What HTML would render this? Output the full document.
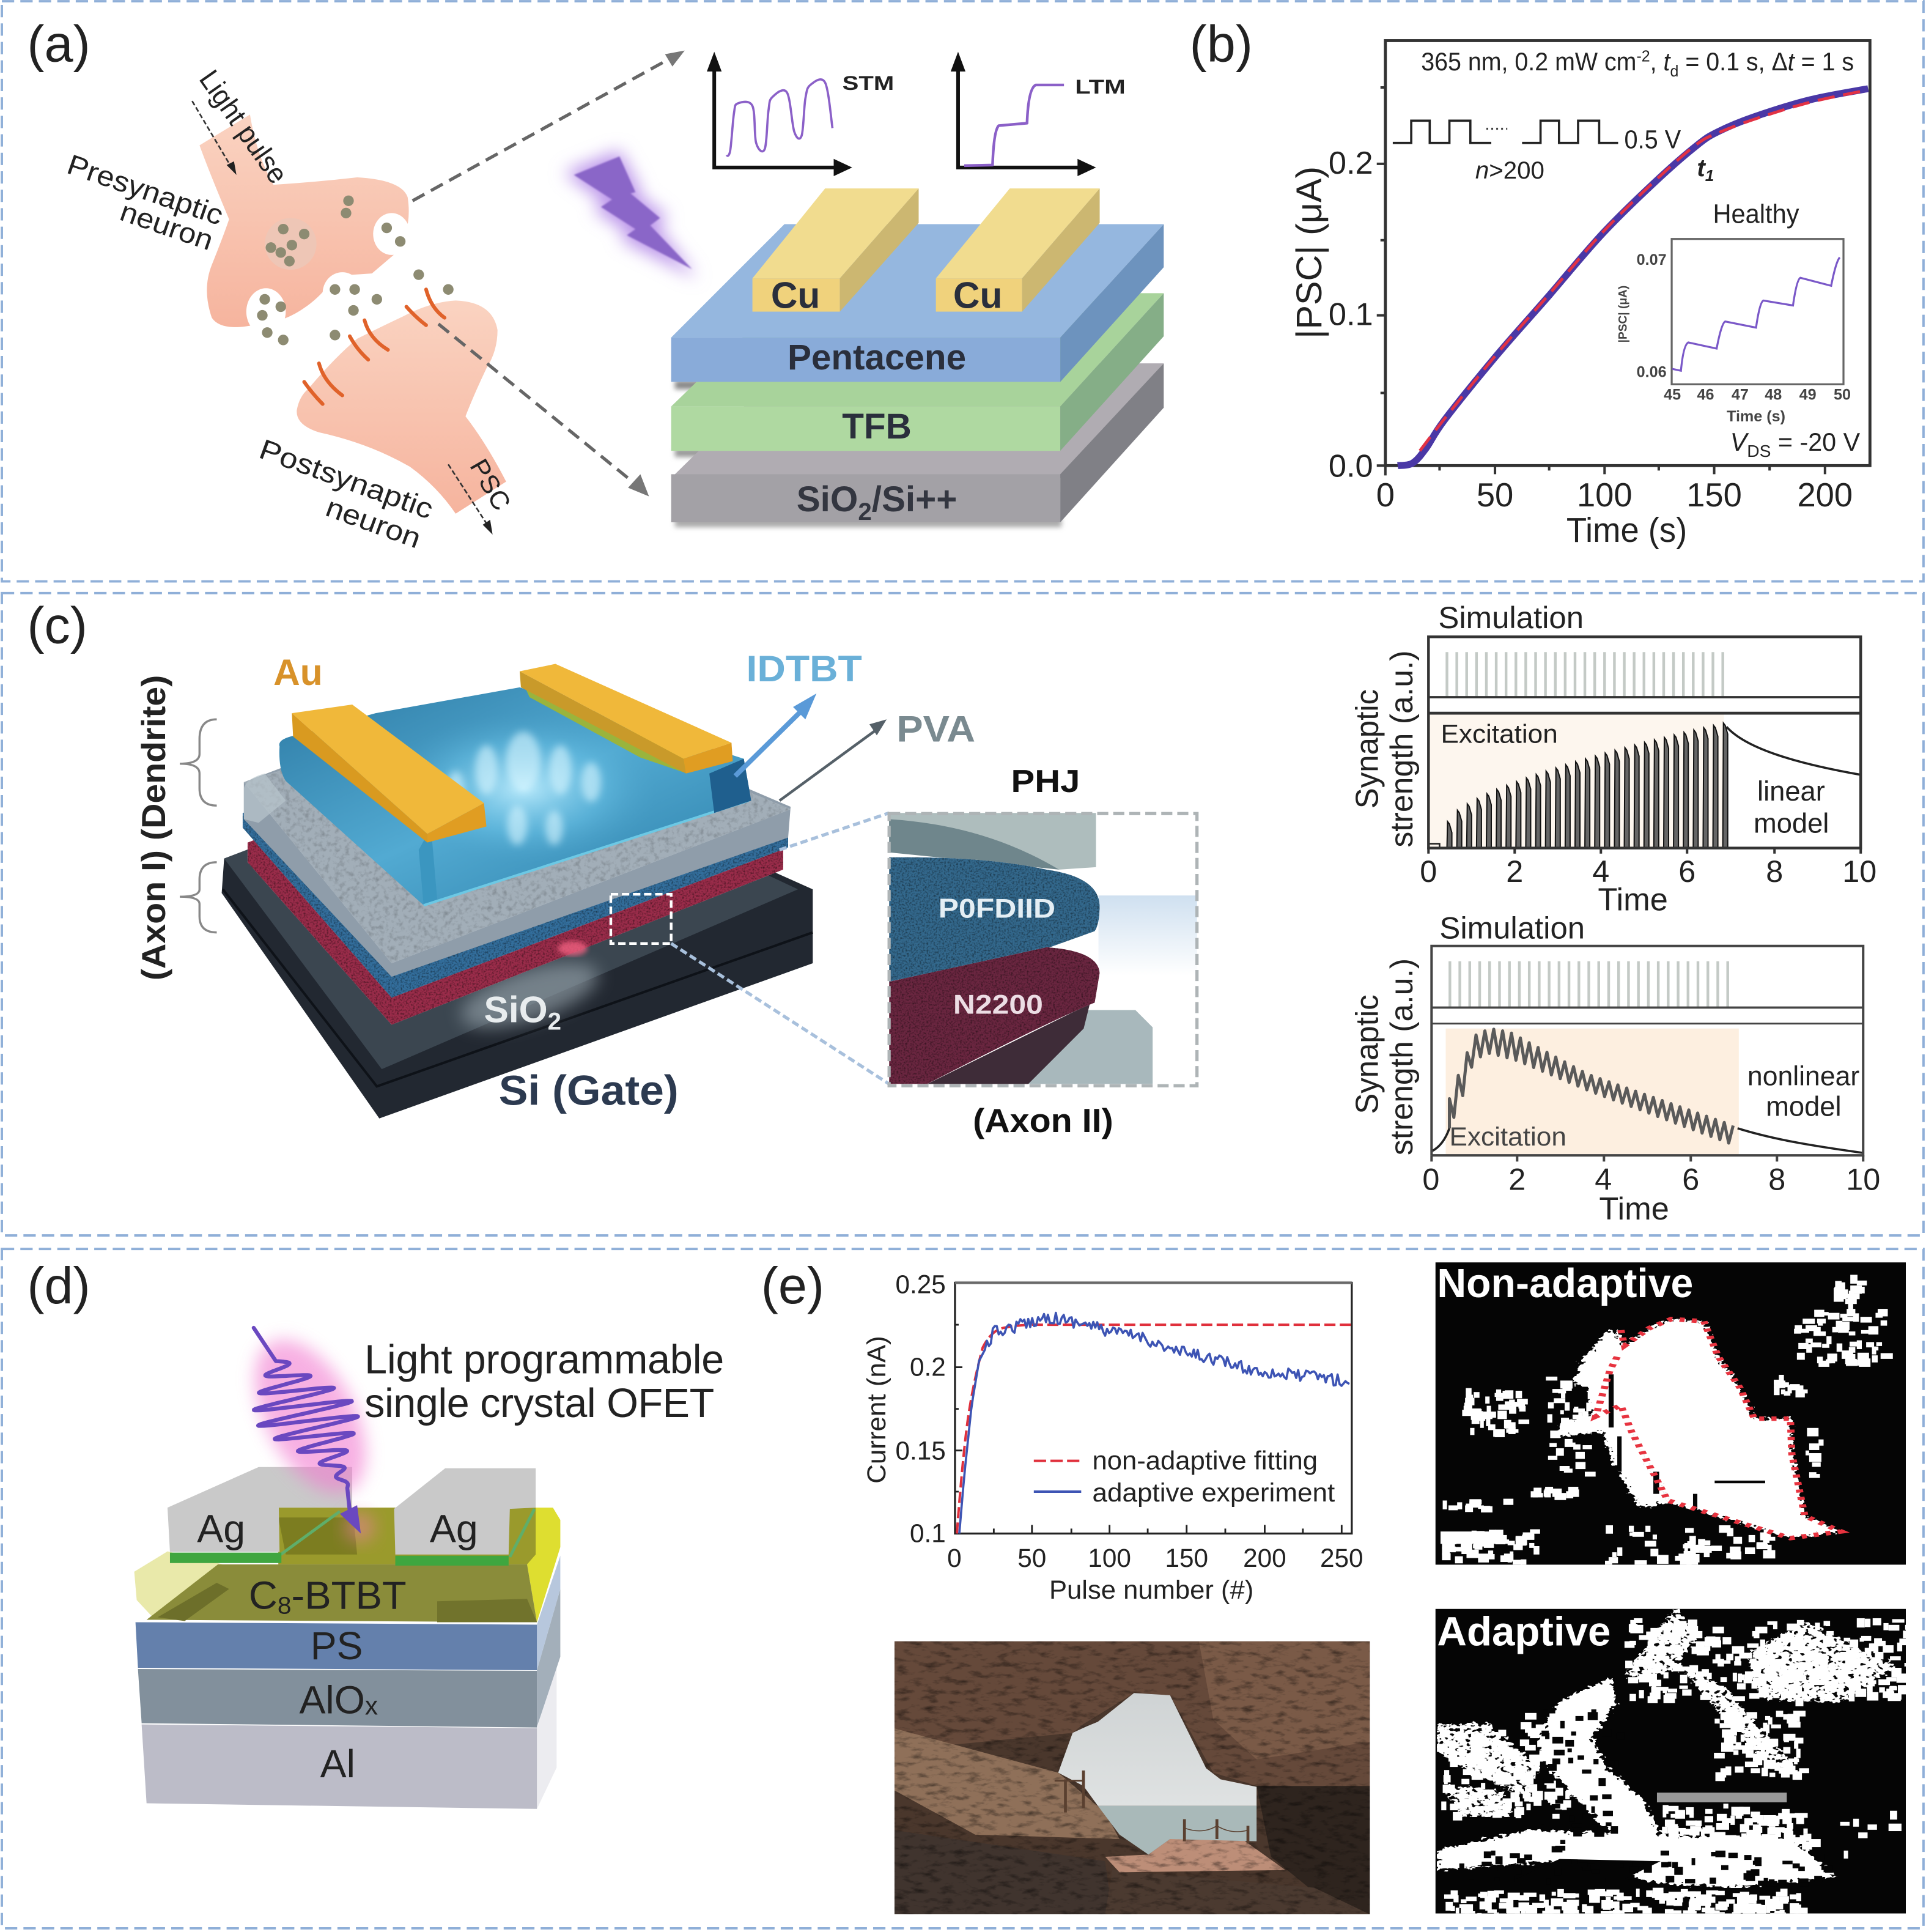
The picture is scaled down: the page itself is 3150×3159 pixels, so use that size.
<!DOCTYPE html>
<html><head><meta charset="utf-8"><style>
html,body{margin:0;padding:0;background:#fff}
svg{display:block}
text{font-family:"Liberation Sans",sans-serif;fill:#222}
.b{font-weight:bold}
</style></head><body>
<svg xmlns="http://www.w3.org/2000/svg" width="3150" height="3159" viewBox="0 0 1564 1568.5">
<defs>
<filter id="bl2"><feGaussianBlur stdDeviation="2"/></filter>
<filter id="bl1"><feGaussianBlur stdDeviation=".7"/></filter>
<filter id="bl3" x="-40%" y="-40%" width="180%" height="180%"><feGaussianBlur stdDeviation="3"/></filter>
<filter id="bl6" x="-40%" y="-40%" width="180%" height="180%"><feGaussianBlur stdDeviation="7"/></filter>
<filter id="rag" x="0" y="0" width="1" height="1" color-interpolation-filters="sRGB">
 <feTurbulence type="fractalNoise" baseFrequency=".13" numOctaves="2" seed="4" result="n"/>
 <feDisplacementMap in="SourceGraphic" in2="n" scale="26" xChannelSelector="R" yChannelSelector="G" result="d"/>
 <feColorMatrix in="n" type="matrix" values="0 0 0 0 0 0 0 0 0 0 0 0 0 0 0 14 0 0 0 -8.2" result="h"/>
 <feComposite in="d" in2="h" operator="out"/>
</filter>
<filter id="rag2" x="0" y="0" width="1" height="1" color-interpolation-filters="sRGB">
 <feTurbulence type="fractalNoise" baseFrequency=".14" numOctaves="2" seed="9" result="n"/>
 <feDisplacementMap in="SourceGraphic" in2="n" scale="22" xChannelSelector="R" yChannelSelector="G"/>
</filter>
<filter id="grain" x="0" y="0" width="1" height="1" color-interpolation-filters="sRGB">
 <feTurbulence type="fractalNoise" baseFrequency=".7" numOctaves="2" seed="2" result="n"/>
 <feColorMatrix in="n" type="matrix" values="1.1 0 0 0 .38 1.1 0 0 0 .38 1.1 0 0 0 .38 0 0 0 0 1" result="g"/>
 <feBlend in="SourceGraphic" in2="g" mode="multiply" result="m"/>
 <feComposite in="m" in2="SourceGraphic" operator="in"/>
</filter>
<filter id="soft" x="0" y="0" width="1" height="1" color-interpolation-filters="sRGB">
 <feTurbulence type="fractalNoise" baseFrequency=".25" numOctaves="3" seed="5" result="n"/>
 <feColorMatrix in="n" type="matrix" values=".45 0 0 0 .76 .45 0 0 0 .76 .45 0 0 0 .76 0 0 0 0 1" result="g"/>
 <feBlend in="SourceGraphic" in2="g" mode="multiply" result="m"/>
 <feComposite in="m" in2="SourceGraphic" operator="in"/>
</filter>
<filter id="rock" x="0" y="0" width="1" height="1" color-interpolation-filters="sRGB">
 <feTurbulence type="fractalNoise" baseFrequency=".05 .08" numOctaves="5" seed="7" result="n"/>
 <feColorMatrix in="n" type="matrix" values="1.15 0 0 0 .42 1.15 0 0 0 .42 1.15 0 0 0 .42 0 0 0 0 1" result="g"/>
 <feBlend in="SourceGraphic" in2="g" mode="multiply"/>
</filter>
<linearGradient id="pre" x1="0" y1="0" x2="0" y2="1"><stop offset="0" stop-color="#fad3c1"/><stop offset="1" stop-color="#f6b49e"/></linearGradient>
<linearGradient id="idt" x1="0" y1="0" x2="1" y2="1"><stop offset="0" stop-color="#2d7aa4"/><stop offset=".5" stop-color="#52aad2"/><stop offset="1" stop-color="#2a7ca6"/></linearGradient>
<radialGradient id="glo"><stop offset="0" stop-color="#c4f0ff" stop-opacity=".9"/><stop offset=".6" stop-color="#6cc4e8" stop-opacity=".45"/><stop offset="1" stop-color="#4aa0c8" stop-opacity="0"/></radialGradient>
<linearGradient id="lb" x1="0" y1="0" x2="0" y2="1"><stop offset="0" stop-color="#cfe0f0"/><stop offset="1" stop-color="#fff"/></linearGradient>
<linearGradient id="sky" x1="0" y1="0" x2="0" y2="1"><stop offset="0" stop-color="#cfd3d4"/><stop offset="1" stop-color="#dfe2e2"/></linearGradient>
<clipPath id="ph"><rect x="138" y="903" width="659" height="617"/></clipPath>
<clipPath id="na"><rect x="888" y="47" width="652" height="683"/></clipPath>
<clipPath id="ad"><rect x="888" y="830" width="652" height="688"/></clipPath>
</defs>
<rect width="1564" height="1568.5" fill="#fff"/>

<!-- panel borders -->
<g fill="none" stroke="#8fafd8" stroke-width="1.9" stroke-dasharray="10 5">
<rect x="1.5" y="1" width="1560.5" height="471"/>
<rect x="1.5" y="481.5" width="1560.5" height="521.5"/>
<rect x="1.5" y="1014" width="1560.5" height="551.5"/>
</g>
<g font-size="42"><text x="22" y="50">(a)</text><text x="966" y="50">(b)</text><text x="22" y="522">(c)</text><text x="22" y="1058">(d)</text><text x="618" y="1058">(e)</text></g>

<!-- ===== (a) neurons ===== -->
<path d="M162 118 L203 93 Q208 125 222 150 Q255 148 290 144 Q326 146 331 160 Q335 185 322 205 L302 222 L272 224 Q262 240 247 250 Q230 262 210 263 Q180 270 172 258 Q164 235 172 215 Q182 190 186 178 Q170 140 162 118Z" fill="url(#pre)"/>
<path d="M370 244 Q400 245 404 268 Q404 285 395 299 Q385 320 378 338 Q395 360 411 391 L370 417 Q355 395 333 379 Q300 360 259 351 Q240 345 241 333 Q243 322 250 316 Q272 290 290 275 Q310 265 327 257 Q350 245 370 244Z" fill="url(#pre)"/>
<circle cx="236" cy="198" r="21" fill="#eec6b6"/>
<g fill="#fff"><ellipse cx="318" cy="190" rx="15" ry="17"/><ellipse cx="216" cy="253" rx="16" ry="19"/><ellipse cx="278" cy="238" rx="16" ry="17"/></g>
<g fill="#8d8b72"><circle cx="230" cy="186" r="4.3"/><circle cx="247" cy="190" r="4.3"/><circle cx="220" cy="201" r="4.3"/><circle cx="237" cy="199" r="4.3"/><circle cx="228" cy="205" r="4.3"/><circle cx="235" cy="212" r="4.3"/><circle cx="283" cy="163" r="4.3"/><circle cx="281" cy="173" r="4.3"/><circle cx="314" cy="185" r="4.3"/><circle cx="325" cy="196" r="4.3"/><circle cx="215" cy="243" r="4.3"/><circle cx="228" cy="249" r="4.3"/><circle cx="213" cy="256" r="4.3"/><circle cx="217" cy="270" r="4.3"/><circle cx="230" cy="276" r="4.3"/><circle cx="272" cy="235" r="4.3"/><circle cx="288" cy="235" r="4.3"/><circle cx="306" cy="243" r="4.3"/><circle cx="287" cy="252" r="4.3"/><circle cx="272" cy="272" r="4.3"/><circle cx="340" cy="223" r="4.3"/><circle cx="364" cy="235" r="4.3"/></g>
<g fill="none" stroke="#e0622a" stroke-width="3" stroke-linecap="round"><path d="M346 235Q350 250 361 258"/><path d="M330 249Q338 258 346 264"/><path d="M296 260Q300 275 315 284"/><path d="M284 273Q290 284 299 292"/><path d="M259 295Q263 310 278 321"/><path d="M247 310Q254 320 262 328"/></g>
<g font-size="23">
<text transform="translate(161,64) rotate(55)" textLength="106" lengthAdjust="spacingAndGlyphs">Light pulse</text>
<text transform="translate(53,140) rotate(19)" textLength="132" lengthAdjust="spacingAndGlyphs">Presynaptic</text>
<text transform="translate(96,178) rotate(19)" textLength="78" lengthAdjust="spacingAndGlyphs">neuron</text>
<text transform="translate(209,371) rotate(20)" textLength="148" lengthAdjust="spacingAndGlyphs">Postsynaptic</text>
<text transform="translate(263,418) rotate(20)" textLength="80" lengthAdjust="spacingAndGlyphs">neuron</text>
<text transform="translate(381,378) rotate(60)" font-size="21" textLength="44" lengthAdjust="spacingAndGlyphs">PSC</text>
</g>
<g fill="none" stroke="#333" stroke-width="1.3" stroke-dasharray="4 2"><path d="M156 82 L188 136"/><path d="M364 377 L397 428"/></g>
<polygon points="192,142 184,134 190,131" fill="#222"/><polygon points="400,434 392,426 398,422" fill="#222"/>
<g fill="none" stroke="#666" stroke-width="2.6" stroke-dasharray="11 6"><path d="M335 163 L545 47"/><path d="M356 263 L516 393"/></g>
<polygon points="556,41 540,44 546,54" fill="#777"/><polygon points="527,403 520,385 510,396" fill="#777"/>
<!-- bolt -->
<polygon points="503,122 458,140 490,164 482,170 510,189 503,194 566,226 534,184 542,176 518,158 520,154" fill="#bb94ea" filter="url(#bl6)"/>
<polygon points="503,127 466,142 497,162 488,168 516,186 509,191 562,218.5 528,183 536,177 512,157 516,156" fill="#8a66c8" filter="url(#bl1)"/>
<!-- STM/LTM axes -->
<g fill="none" stroke="#111" stroke-width="3"><path d="M580 50 V136 H684"/><path d="M778 50 V136 H882"/></g>
<g fill="#111"><polygon points="580,42 574,58 586,58"/><polygon points="692,136 677,129 677,143"/><polygon points="778,42 772,58 784,58"/><polygon points="890,136 875,129 875,143"/></g>
<g fill="none" stroke="#8b60c8" stroke-width="1.8" stroke-linejoin="round"><path id="stm"/><path id="ltm" stroke-width="2.2"/></g>
<text x="684" y="73" font-size="16" class="b" textLength="42" lengthAdjust="spacingAndGlyphs">STM</text>
<text x="873" y="76" font-size="16" class="b" textLength="41" lengthAdjust="spacingAndGlyphs">LTM</text>
<!-- stack -->
<g filter="url(#bl2)" fill="#aaa"><rect x="548" y="420" width="314" height="8"/><rect x="548" y="364" width="314" height="7" fill="#999"/><rect x="548" y="309" width="314" height="7" fill="#888"/></g>
<polygon points="545,388 861,388 945,295 640,295" fill="#b0acb2"/><rect x="545" y="385" width="316" height="39" fill="#a3a1a6"/><polygon points="861,385 945,295 945,331 861,424" fill="#808086"/>
<polygon points="545,330 861,330 945,238 640,238" fill="#a8d39b"/><rect x="545" y="330" width="316" height="36" fill="#afd9a1"/><polygon points="861,330 945,238 945,273 861,366" fill="#85ae87"/>
<polygon points="545,274 861,274 945,182 637,182" fill="#95b7df"/><rect x="545" y="274" width="316" height="36" fill="#89abd9"/><polygon points="861,274 945,182 945,217 861,310" fill="#6d93be"/>
<polygon points="611,226 682,226 746,153 670,153" fill="#f1dc8f"/><rect x="611" y="226" width="71" height="27" fill="#f0d27c"/><polygon points="682,226 746,153 746,181 682,253" fill="#ccb771"/>
<polygon points="760,226 830,226 893,153 820,153" fill="#f1dc8f"/><rect x="760" y="226" width="70" height="27" fill="#f0d27c"/><polygon points="830,226 893,153 893,181 830,253" fill="#ccb771"/>
<g font-weight="bold" text-anchor="middle">
<text x="646" y="250" font-size="30" style="fill:#2a2f3c">Cu</text><text x="794" y="250" font-size="30" style="fill:#2a2f3c">Cu</text>
<text x="712" y="300" font-size="29" style="fill:#2a2f3c">Pentacene</text>
<text x="712" y="356" font-size="29" style="fill:#2a2f3c">TFB</text>
<text x="712" y="415" font-size="29" style="fill:#333640">SiO<tspan font-size="20" dy="7">2</tspan><tspan dy="-7">/Si++</tspan></text>
</g>

<!-- ===== (b) ===== -->
<rect x="1125" y="33" width="393.5" height="345" fill="none" stroke="#333" stroke-width="2.4"/>
<g stroke="#333" stroke-width="2" fill="none"><path d="M1125 378v8M1214 378v7M1303 378v7M1392 378v7M1482 378v7M1169 378v4M1258 378v4M1347 378v4M1437 378v4M1125 133h-7M1125 256h-7M1125 378h-7M1125 319h-4M1125 195h-4M1125 71h-4"/></g>
<path id="c1" fill="none" stroke="#4a38a6" stroke-width="5.6" stroke-linejoin="round"/>
<path id="c2" fill="none" stroke="#e23244" stroke-width="2.4" stroke-dasharray="14 7"/>
<text transform="translate(1154,57) scale(.954,1)" font-size="20.5">365 nm, 0.2 mW cm<tspan font-size="13" dy="-7">-2</tspan><tspan dy="7">, </tspan><tspan font-style="italic">t</tspan><tspan font-size="13" dy="5">d</tspan><tspan dy="-5"> = 0.1 s, Δ</tspan><tspan font-style="italic">t</tspan> = 1 s</text>
<path d="M1131 116H1146V98H1161V116H1177V98H1194V116H1211M1236 116H1251V98H1266V116H1281.5V98H1298.6V116H1314" fill="none" stroke="#222" stroke-width="1.8"/>
<path d="M1207 104.5H1224" stroke="#444" stroke-width="1.6" stroke-dasharray="1.5 2.5"/>
<text x="1319" y="120.5" font-size="21" textLength="46" lengthAdjust="spacingAndGlyphs">0.5 V</text>
<text x="1198" y="145" font-size="20"><tspan font-style="italic">n</tspan>&gt;200</text>
<text x="1378" y="143" font-size="20" font-style="italic" font-weight="bold">t<tspan font-size="13" dy="4">1</tspan></text>
<text x="1391" y="181" font-size="21.5" textLength="70" lengthAdjust="spacingAndGlyphs">Healthy</text>
<rect x="1357.5" y="194" width="139.5" height="118" fill="none" stroke="#666" stroke-width="1.6"/>
<path d="M1358 299.5L1365 301Q1367 280 1371 278L1394 283Q1398 262 1401 261L1426 266Q1429 245 1432 244L1456 248Q1459 227 1462 225.5L1487 232Q1491 212 1494 209" fill="none" stroke="#7a58c8" stroke-width="1.6"/>
<g font-size="12.5" text-anchor="middle" font-weight="bold"><text x="1358" y="324.5" style="fill:#444">45</text><text x="1385" y="324.5" style="fill:#444">46</text><text x="1413" y="324.5" style="fill:#444">47</text><text x="1440" y="324.5" style="fill:#444">48</text><text x="1468" y="324.5" style="fill:#444">49</text><text x="1496" y="324.5" style="fill:#444">50</text><text x="1426" y="342" style="fill:#444">Time (s)</text></g>
<g font-size="12.5" font-weight="bold"><text x="1329" y="215" style="fill:#444">0.07</text><text x="1329" y="306" style="fill:#444">0.06</text><text transform="translate(1321,255) rotate(-90)" text-anchor="middle" font-size="9.5" style="fill:#444">|PSC| (μA)</text></g>
<text x="1405" y="366" font-size="20.5"><tspan font-style="italic">V</tspan><tspan font-size="14" dy="5">DS</tspan><tspan dy="-5"> = -20 V</tspan></text>
<g font-size="27" text-anchor="middle"><text x="1125" y="411">0</text><text x="1214" y="411">50</text><text x="1303" y="411">100</text><text x="1392" y="411">150</text><text x="1482" y="411">200</text><text x="1321" y="440" font-size="28" textLength="98" lengthAdjust="spacingAndGlyphs">Time (s)</text></g>
<g font-size="26" text-anchor="end"><text x="1115" y="141">0.2</text><text x="1115" y="264">0.1</text><text x="1115" y="387">0.0</text></g>
<text transform="translate(1073,205) rotate(-90)" text-anchor="middle" font-size="29" textLength="140" lengthAdjust="spacingAndGlyphs">|PSC| (μA)</text>

<!-- ===== (c) device ===== -->
<polygon points="182,697 410,610 660,722 660,782 308,908 180,725" fill="#222831"/>
<polygon points="182,697 410,610 648,722 310,868" fill="#3b4650"/>
<path d="M181 722 L306 882 L660 757" fill="none" stroke="#0e1218" stroke-width="2"/>
<ellipse cx="430" cy="808" rx="58" ry="20" fill="#8d9aa2" opacity=".7" filter="url(#bl6)" transform="rotate(-18 430 808)"/>
<polygon points="201,684 420,600 636,690 636,706 318,832 201,700" fill="#9a2c4a" filter="url(#grain)"/>
<ellipse cx="465" cy="770" rx="12" ry="6" fill="#f06080" opacity=".8" filter="url(#bl2)"/>
<polygon points="197,660 420,590 640,665 640,688 318,810 197,672" fill="#336e9c" filter="url(#grain)"/>
<polygon points="198,635 290,600 420,560 642,655 640,680 318,793 198,665" fill="#8f9daa"/>
<polygon points="198,635 420,565 642,657 318,782" fill="#a2aeb8" filter="url(#soft)"/>
<path d="M198 640 Q200 632 215 628 L232 650 L210 668 L198 665Z" fill="#b8c4cc" opacity=".7"/>
<path d="M227 606 Q225 600 240 597 L305 579 L422 558 L604 616 L610 650 L344 735 L232 634 Q226 625 227 606Z" fill="url(#idt)"/>
<ellipse cx="425" cy="640" rx="110" ry="62" fill="url(#glo)"/>
<g fill="#d8f6ff" opacity=".6" filter="url(#bl3)"><ellipse cx="425" cy="618" rx="14" ry="24"/><ellipse cx="395" cy="625" rx="9" ry="20"/><ellipse cx="455" cy="625" rx="9" ry="20"/><ellipse cx="480" cy="635" rx="8" ry="16"/><ellipse cx="370" cy="640" rx="7" ry="14"/><ellipse cx="420" cy="670" rx="8" ry="16"/><ellipse cx="450" cy="672" rx="7" ry="14"/></g>
<polygon points="344,735 340,690 350,672 355,730" fill="#3b96c0"/>
<path d="M344 735 L608 650" stroke="#6cc8e4" stroke-width="2" fill="none"/>
<polygon points="604,616 610,650 580,660 576,628" fill="#1f5f8e"/>
<polygon points="425,555 555,612 558,628 520,615 430,566" fill="#9ab43c"/>
<polygon points="237,579 286,572 393,652 347,677" fill="#f0b83a"/>
<polygon points="237,579 347,677 347,684 238,598" fill="#d99a20"/>
<polygon points="347,677 393,652 395,671 347,684" fill="#e09d22"/>
<polygon points="422,545 451,539 594,603 555,616" fill="#f0b83a"/>
<polygon points="422,545 555,616 557,628 423,558" fill="#c99a2a"/>
<polygon points="555,616 594,603 595,618 557,628" fill="#e09d22"/>
<path d="M597 630 L656 572" stroke="#5a9ad8" stroke-width="4"/><polygon points="663,563 644,574 654,584" fill="#5a9ad8"/>
<path d="M633 650 L715 590" stroke="#556068" stroke-width="2.2"/><polygon points="720,584 706,588 712,597" fill="#556068"/>
<g fill="none" stroke="#888" stroke-width="1.7"><path d="M176 584 Q162 584 162 600 V612 Q162 620 146 620 Q162 620 162 628 V640 Q162 654 176 654"/><path d="M176 700 Q162 700 162 714 V722 Q162 728 146 728 Q162 728 162 734 V744 Q162 757 176 757"/></g>
<text transform="translate(134,672) rotate(-90)" text-anchor="middle" font-size="27" font-weight="bold" textLength="248" lengthAdjust="spacingAndGlyphs">(Axon I) (Dendrite)</text>
<g font-weight="bold">
<text x="222" y="556" font-size="30" style="fill:#d8922a">Au</text>
<text x="606" y="553" font-size="30" style="fill:#6ab0d8" textLength="94" lengthAdjust="spacingAndGlyphs">IDTBT</text>
<text x="728" y="602" font-size="30" style="fill:#7a8a90" textLength="64" lengthAdjust="spacingAndGlyphs">PVA</text>
<text x="821" y="643" font-size="26" style="fill:#111" textLength="56" lengthAdjust="spacingAndGlyphs">PHJ</text>
<text x="790" y="919" font-size="27" style="fill:#111" textLength="114" lengthAdjust="spacingAndGlyphs">(Axon II)</text>
<text x="393" y="830" font-size="30" style="fill:#e8ecee">SiO<tspan font-size="20" dy="6">2</tspan></text>
<text x="405" y="897" font-size="34" style="fill:#2c3a50" textLength="146" lengthAdjust="spacingAndGlyphs">Si (Gate)</text>
</g>
<!-- inset -->
<path d="M633 690 L722 660M545 766 L722 880" stroke="#a8c0dc" stroke-width="2.6" stroke-dasharray="6 3" fill="none"/>
<rect x="496" y="726" width="49" height="40" fill="none" stroke="#fff" stroke-width="2.2" stroke-dasharray="6 3"/>
<rect x="892" y="727" width="80" height="65" fill="url(#lb)"/>
<polygon points="722,660 890,660 890,704 860,706 722,680" fill="#aebdbd"/>
<path d="M722 665 Q800 670 860 706 L722 692Z" fill="#6f868c"/>
<path d="M722 696 Q800 695 850 706 Q892 712 893 735 Q893 750 889 756 L850 770 L722 797Z" fill="#33688c" filter="url(#grain)"/>
<polygon points="876,820 922,820 936,834 936,880 779,880 870,822" fill="#a8b8bc"/>
<polygon points="885,815 753,880 835,880 880,835" fill="#3e2c38"/>
<path d="M722 797 L850 769 Q892 772 893 790 L889 814 Q850 830 753 880 L722 880Z" fill="#6a2640" filter="url(#grain)"/>
<rect x="722" y="660.5" width="250" height="221" fill="none" stroke="#aeb4b6" stroke-width="2.6" stroke-dasharray="9 4"/>
<g font-weight="bold" font-size="22"><text x="762" y="745" style="fill:#e4eef4" textLength="95" lengthAdjust="spacingAndGlyphs">P0FDIID</text><text x="774" y="823" style="fill:#ecdde4" textLength="73" lengthAdjust="spacingAndGlyphs">N2200</text></g>

<!-- (c) plots -->
<rect x="1160" y="579" width="240" height="109" fill="#fdf6ee"/>
<path id="st1" stroke="#c4cac6" stroke-width="2.2" fill="none"/>
<path id="sp1" fill="#666" stroke="#111" stroke-width="1"/>
<path d="M1402 590 C1418 608,1460 620,1511 629" fill="none" stroke="#222" stroke-width="1.8"/>
<path d="M1160 685H1169V688" fill="none" stroke="#222" stroke-width="1.3"/>
<g fill="none" stroke="#333"><rect x="1160" y="517" width="351" height="171.5" stroke-width="2.2"/><path d="M1160 566H1511" stroke-width="1.8"/><path d="M1160 579H1511" stroke-width="2.4"/><path d="M1160 688v5M1230 688v5M1300 688v5M1370 688v5M1441 688v5M1511 688v5" stroke-width="2"/></g>
<text x="1168" y="510" font-size="25" textLength="118" lengthAdjust="spacingAndGlyphs">Simulation</text>
<text x="1170" y="603" font-size="21" textLength="95" lengthAdjust="spacingAndGlyphs">Excitation</text>
<text x="1427" y="650" font-size="22.5">linear</text><text x="1424" y="676" font-size="22.5">model</text>
<g font-size="25" text-anchor="middle"><text x="1160" y="716">0</text><text x="1230" y="716">2</text><text x="1300" y="716">4</text><text x="1370" y="716">6</text><text x="1441" y="716">8</text><text x="1510" y="716">10</text><text x="1326" y="739" font-size="26">Time</text></g>
<g font-size="26" text-anchor="middle"><text transform="translate(1119,608) rotate(-90)" textLength="97" lengthAdjust="spacingAndGlyphs">Synaptic</text><text transform="translate(1147,608) rotate(-90)" textLength="160" lengthAdjust="spacingAndGlyphs">strength (a.u.)</text></g>

<rect x="1174" y="835" width="238" height="102" fill="#fdefe0"/>
<path id="st2" stroke="#c4cac6" stroke-width="2.2" fill="none"/>
<path id="sp2" fill="none" stroke="#5a5a5a" stroke-width="2.5" stroke-linejoin="round"/>
<path d="M1162.5 934.7 Q1172 930 1177 916 M1411 916 C1440 925,1470 930,1513 936" fill="none" stroke="#222" stroke-width="1.8"/>
<g fill="none" stroke="#444"><path d="M1162.5 938V768H1513V938H1162.5" stroke-width="2"/><path d="M1162.5 818H1513" stroke-width="1.8"/><path d="M1162.5 831H1513" stroke-width="1.4"/><path d="M1162.5 938v5M1232 938v5M1302.5 938v5M1373 938v5M1443 938v5M1513 938v5" stroke-width="2"/></g>
<text x="1169" y="762" font-size="25" textLength="118" lengthAdjust="spacingAndGlyphs">Simulation</text>
<text x="1177" y="930" font-size="21" style="fill:#444" textLength="95" lengthAdjust="spacingAndGlyphs">Excitation</text>
<text x="1419" y="881" font-size="22" textLength="91" lengthAdjust="spacingAndGlyphs">nonlinear</text><text x="1434" y="906" font-size="22.5">model</text>
<g font-size="25" text-anchor="middle"><text x="1162" y="966">0</text><text x="1232" y="966">2</text><text x="1302" y="966">4</text><text x="1373" y="966">6</text><text x="1443" y="966">8</text><text x="1513" y="966">10</text><text x="1327" y="990" font-size="26">Time</text></g>
<g font-size="26" text-anchor="middle"><text transform="translate(1119,856) rotate(-90)" textLength="97" lengthAdjust="spacingAndGlyphs">Synaptic</text><text transform="translate(1147,858) rotate(-90)" textLength="160" lengthAdjust="spacingAndGlyphs">strength (a.u.)</text></g>

<!-- ===== (d) ===== -->
<polygon points="436,1403 452,1350 452,1435 436,1468.6" fill="#ececf0"/>
<polygon points="115,1400 436,1403 436,1468.6 119,1464" fill="#bcbcc8"/>
<polygon points="436,1356 455,1290 455,1345 436,1402" fill="#a3afba"/>
<polygon points="112,1355 436,1356.5 436,1402.5 115,1399" fill="#82909c"/>
<polygon points="436,1319 455,1263 455,1290 436,1356" fill="#b7c7dd"/>
<polygon points="110,1317 436,1319 436,1356 112,1354" fill="#6480ac"/>
<polygon points="226,1224 449,1224 455,1234 455,1256 436,1317 428,1270 428,1262 226,1262" fill="#dede30"/>
<polygon points="226,1224 435,1224 435,1262 428,1270 226,1270" fill="#9a9a2c"/>
<polygon points="226,1232 287,1232 290,1262 232,1262" fill="#77781f" opacity=".85"/>
<polygon points="109,1276 136,1259.5 181,1270 124,1313 111,1299" fill="#e9e9aa"/>
<polygon points="177,1270 428,1270 436,1317 119,1315" fill="#8a8c3a"/>
<polygon points="355,1300 428,1298 436,1317 355,1317" fill="#71732c"/>
<polygon points="128,1313 176,1285 186,1290 150,1316" fill="#6d6f2a"/>
<polygon points="136,1224 210,1191 286,1191 286,1224 226.4,1224 227,1260 138,1260" fill="#c9c9c9"/>
<polygon points="320,1225 361.5,1192 435,1192 435,1224 414,1225 413,1262 321,1262" fill="#c9c9c9"/>
<g fill="none" stroke="#5fae6a"><path d="M228 1262 L276 1227" stroke-width="2.4"/><path d="M414 1264 L434 1225" stroke-width="2.4"/></g>
<polygon points="138,1260.5 228.5,1260.5 228.5,1269 138,1269" fill="#3fa63f"/>
<polygon points="321,1263 413,1263 413,1271 321,1271" fill="#3fa63f"/>
<ellipse cx="252" cy="1150" rx="36" ry="68" fill="#f27cd0" opacity=".6" filter="url(#bl6)" transform="rotate(-28 252 1150)"/>
<circle cx="292" cy="1240" r="12" fill="#f080a0" opacity=".55" filter="url(#bl6)"/>
<path id="wave" fill="none" stroke="#6a48c0" stroke-width="3.2" stroke-linejoin="round" stroke-linecap="round"/>
<polygon points="293,1245 276,1229 290,1222" fill="#6a48c0"/>
<g font-size="32">
<text x="160" y="1252">Ag</text><text x="349" y="1252">Ag</text>
<text x="202" y="1306" textLength="128" lengthAdjust="spacingAndGlyphs">C<tspan font-size="20" dy="4">8</tspan><tspan dy="-4">-BTBT</tspan></text>
<text x="252" y="1347">PS</text>
<text x="243" y="1391">AlO<tspan font-size="21" dy="1">x</tspan></text>
<text x="260" y="1443">Al</text>
<text x="296" y="1115" font-size="33" textLength="292" lengthAdjust="spacing">Light programmable</text>
<text x="296" y="1150.5" font-size="33" textLength="284" lengthAdjust="spacing">single crystal OFET</text>
</g>

<!-- ===== (e) plot ===== -->
<rect x="775.5" y="1041.4" width="322.2" height="203.6" fill="none" stroke="#222" stroke-width="1.6"/>
<path d="M775.5 1041.4H1097.7" stroke="#888" stroke-width="2.5" opacity=".7"/>
<g stroke="#222" stroke-width="1.4"><path d="M838 1245v-7M901 1245v-7M963.6 1245v-7M1027 1245v-7M1089.5 1245v-7M807 1245v-4M870 1245v-4M932 1245v-4M995 1245v-4M1058 1245v-4M775.5 1110h6M775.5 1177.6h6M775.5 1075.5h3M775.5 1143.8h3M775.5 1211h3"/></g>
<path d="M777 1245 Q782 1180 786 1152 T798 1094 Q805 1080 815 1078 Q830 1075 845 1075.5 H1098" fill="none" stroke="#e0303c" stroke-width="2" stroke-dasharray="9 3.5"/>
<path id="blu" fill="none" stroke="#3d54b4" stroke-width="1.8" stroke-linejoin="round"/>
<path d="M839.5 1186H878" stroke="#e0303c" stroke-width="2" stroke-dasharray="10 3.5"/><path d="M839.5 1211H878" stroke="#3d54b4" stroke-width="2"/>
<g font-size="21">
<text x="887" y="1193" textLength="183" lengthAdjust="spacingAndGlyphs">non-adaptive fitting</text>
<text x="887" y="1219" textLength="197" lengthAdjust="spacingAndGlyphs">adaptive experiment</text>
<g text-anchor="middle"><text x="775" y="1272">0</text><text x="838" y="1272">50</text><text x="901" y="1272">100</text><text x="963.6" y="1272">150</text><text x="1027" y="1272">200</text><text x="1089.5" y="1272">250</text></g>
<g text-anchor="end"><text x="768" y="1050">0.25</text><text x="768" y="1117">0.2</text><text x="768" y="1185">0.15</text><text x="768" y="1252">0.1</text></g>
<text x="852" y="1298" textLength="166" lengthAdjust="spacingAndGlyphs">Pulse number (#)</text>
<text transform="translate(719,1144.5) rotate(-90)" text-anchor="middle" textLength="120" lengthAdjust="spacingAndGlyphs">Current (nA)</text>
</g>

<!-- photo -->
<g transform="translate(645.5,1008) scale(.5858,.3593)">
<g clip-path="url(#ph)">
<g filter="url(#rock)">
<rect x="138" y="903" width="659" height="617" fill="#4a372c"/>
<polygon points="138,903 797,903 797,1250 640,1230 580,1200 520,1025 470,1020 400,1090 385,1110 138,1150" fill="#65493a"/>
<polygon points="560,903 797,903 797,1130 640,1170 580,1080" fill="#7a5a47"/>
<polygon points="138,1100 365,1200 430,1290 450,1350 250,1340 138,1240" fill="#8f7059"/>
<polygon points="138,1330 430,1400 440,1520 138,1520" fill="#40342e"/>
<polygon points="640,1230 797,1230 797,1520 720,1470 660,1390" fill="#2e241e"/>
<polygon points="440,1420 720,1460 797,1520 430,1520" fill="#4b3a30"/>
<polygon points="490,1385 520,1350 620,1350 680,1420 450,1425 430,1390" fill="#bd8e78"/>
</g>
<polygon points="470,1020 520,1025 570,1190 590,1215 640,1232 640,1275 420,1275 400,1230 365,1200 385,1110 405,1095 420,1085" fill="url(#sky)"/>
<polygon points="420,1275 640,1275 640,1355 520,1350 490,1385 450,1340" fill="#a9b9b9"/>
<g stroke="#5a4030" stroke-width="4" fill="none"><path d="M540 1305V1355M585 1305V1350M628 1320V1360M360 1218H400M375 1215V1290M400 1195V1280"/><path d="M540 1325 Q565 1340 585 1320 Q605 1340 628 1330" stroke-width="2"/></g>
</g>
<!-- Non-adaptive -->
<rect x="888" y="47" width="652" height="683" fill="#050505"/>
<g clip-path="url(#na)">
<g filter="url(#rag2)" fill="#fff">
<polygon points="1140,200 1150,235 1185,195 1215,175 1260,180 1280,260 1310,330 1330,400 1380,400 1382,480 1400,620 1450,655 1380,670 1290,625 1210,590 1160,430 1110,395 1130,290"/>
<polygon points="1090,270 1130,195 1150,240 1170,300 1160,430 1210,590 1170,600 1135,500 1120,430 1055,440 1060,410 1105,390 1100,330 1080,320"/>
</g>
<g fill="#050505"><rect x="1128" y="300" width="7" height="120"/><rect x="1140" y="440" width="6" height="80"/><rect x="1275" y="540" width="70" height="6"/><rect x="1190" y="520" width="8" height="50"/><rect x="1245" y="570" width="6" height="40"/></g>
<rect x="895" y="655" width="85" height="28" fill="#fff"/>
<g id="nag" fill="#fff"></g>
<path d="M1145 200 L1150 235 L1185 195 L1215 175 L1260 180 L1280 260 L1310 330 L1330 400 L1380 400 L1382 480 L1400 620 L1450 655 L1380 670 L1290 625 L1210 585 L1160 430 L1145 370 L1110 395 L1130 290 L1140 260" fill="none" stroke="#e7333f" stroke-width="10" stroke-dasharray="7 10"/>
</g>
<!-- Adaptive -->
<rect x="888" y="830" width="652" height="688" fill="#050505"/>
<g clip-path="url(#ad)">
<g filter="url(#rag)" fill="#fff">
<polygon points="1150,980 1220,830 1250,900 1220,950 1290,1010 1380,1180 1340,1170 1280,1060 1230,965 1170,985"/>
<polygon points="1320,930 1400,860 1525,960 1450,1040 1380,1040 1340,1030"/>
<polygon points="890,1090 960,1090 1030,1190 1010,1250 950,1210 890,1150"/>
<polygon points="900,1230 980,1240 990,1300 920,1300"/>
</g>
<g filter="url(#rag2)" fill="#fff">
<polygon points="1130,985 1140,1040 1105,1120 1125,1190 1175,1260 1200,1340 1170,1380 1120,1320 1050,1200 1030,1120 1060,1040"/>
<polygon points="890,1375 1020,1330 1180,1340 1380,1350 1445,1435 1300,1460 1200,1450 1060,1400 890,1420"/>
</g>
<rect x="1195" y="1245" width="180" height="22" fill="#999"/>
<polygon points="1060,1395 1200,1400 1150,1440 1000,1440" fill="#050505"/>
<g id="adg" fill="#fff"></g>
<g id="adk" fill="#050505"></g>
</g>
</g>
<!-- image captions -->
<text x="1167" y="1053" font-size="33" font-weight="bold" style="fill:#fff" textLength="208" lengthAdjust="spacingAndGlyphs">Non-adaptive</text>
<text x="1167" y="1336" font-size="33" font-weight="bold" style="fill:#fff" textLength="141" lengthAdjust="spacingAndGlyphs">Adaptive</text>
</svg>
<script>
(function(){
function S(id,d){document.getElementById(id).setAttribute('d',d)}
function CR(p){var d='M'+p[0][0]+' '+p[0][1];for(var i=0;i<p.length-1;i++){var a=p[i-1]||p[i],b=p[i],c=p[i+1],e=p[i+2]||c;d+='C'+(b[0]+(c[0]-a[0])/6).toFixed(1)+' '+(b[1]+(c[1]-a[1])/6).toFixed(1)+','+(c[0]-(e[0]-b[0])/6).toFixed(1)+' '+(c[1]-(e[1]-b[1])/6).toFixed(1)+','+c[0]+' '+c[1];}return d;}
S('stm',CR([[590,127],[593,122],[596,92],[599,84],[611,86],[614,116],[621,121],[624,90],[627,79],[639,75],[645,107],[651,110],[654,80],[658,69],[670,67],[676,104]]));
S('ltm','M783 134.5L806 134Q807 106 811 102L834 100Q835 72 841 69L864 69');
S('c1',CR([[1135,378],[1147,376],[1158,364],[1173,341],[1215,289],[1257,241],[1302,189],[1348,144],[1378,118],[1395,107],[1424,95],[1470,81],[1517,72]]));
S('c2',CR([[1153,366],[1173,340],[1215,288],[1257,240],[1302,188],[1348,143],[1378,117],[1395,108],[1424,97],[1470,83],[1517,73]]));
var i,d='';
for(i=0;i<29;i++){var x=1175+8*i;d+='M'+x+' 529.4V566';}S('st1',d);
d='';for(i=0;i<29;i++){x=1177.4+8.057*i;d+='M'+x+' 780.4V818';}S('st2',d);
d='';for(i=0;i<29;i++){x=1175+8*i;var p=688-(21+80*Math.pow(i/28,.65));d+='M'+x+' 688L'+(x+.5)+' '+p+'L'+(x+2)+' '+(p+2)+'L'+(x+4)+' '+(p+9)+'V688Z';}S('sp1',d);
function I(a,x){for(var k=0;k<a.length-1;k++){if(x<=a[k+1][0]){var t=(x-a[k][0])/(a[k+1][0]-a[k][0]);return a[k][1]+t*(a[k+1][1]-a[k][1]);}}return a[a.length-1][1];}
var U=[[1177,892],[1188,863],[1197,841],[1210,835],[1226,838],[1289,872],[1408,914]],L=[[1177,916],[1188,889],[1197,860],[1210,855],[1232,861],[1289,885],[1408,929.6]];
d='M1177 916';var f=0;for(x=1177;x<=1409;x+=3.6){d+='L'+x.toFixed(1)+' '+I(f?L:U,x);f=!f;}S('sp2',d);
var B=[[779,1245],[783,1198],[789,1141],[795,1105],[807,1081.7],[821,1078],[850.5,1069],[880,1074.5],[903,1081.7],[927,1085],[950,1096],[985,1103],[1015,1112],[1044,1116],[1073,1117.6],[1096.5,1123]];
d='';var s=12345;function R(){s=(s*16807)%2147483647;return s/2147483647-.5;}
for(x=779;x<=1097;x+=1.6){var j=x<800?0:R()*10;d+=(d?'L':'M')+x.toFixed(1)+' '+(I(B,x)+j).toFixed(1);}S('blu',d);
// light wave
d='M206 1078L224 1105';
for(i=0;i<=320;i++){var t=i/320,cx=224+58*t,cy=1105+103*t,A=41*Math.exp(-Math.pow((t-.42)/.32,2)),w=A*Math.sin(2*Math.PI*8.5*t);d+='L'+(cx+w*.98).toFixed(1)+' '+(cy-w*.17).toFixed(1);}
d+='L284 1227L290 1238';S('wave',d);
// binarised speckle
function scat(id,a,dens){var g=document.getElementById(id),q,n;for(q=0;q<a.length;q++){for(n=0;n<a[q][4];n++){var r=document.createElementNS('http://www.w3.org/2000/svg','rect');r.setAttribute('x',(a[q][0]+(R()+.5)*a[q][2]).toFixed(0));r.setAttribute('y',(a[q][1]+(R()+.5)*a[q][3]).toFixed(0));r.setAttribute('width',(5+(R()+.5)*dens).toFixed(0));r.setAttribute('height',(8+(R()+.5)*dens).toFixed(0));g.appendChild(r);}}}
scat('nag',[[925,330,80,100,45],[1380,150,130,120,60],[1440,75,35,70,18],[895,650,130,70,60],[895,580,90,20,12],[1020,550,60,20,12],[1120,640,120,85,22],[1230,640,130,70,30],[1040,300,60,220,35],[1350,300,50,50,12],[1400,400,20,130,8],[1170,180,120,60,0]],12);
scat('adg',[[1150,850,390,180,230],[890,1090,130,200,90],[900,1460,500,58,170],[1200,1270,200,90,110],[1000,1060,100,240,60],[1270,1060,130,140,80],[1400,1280,120,100,8]],13);
scat('adk',[[1030,1050,110,320,45],[890,1375,540,70,70]],10);
})();
</script>
</body></html>
